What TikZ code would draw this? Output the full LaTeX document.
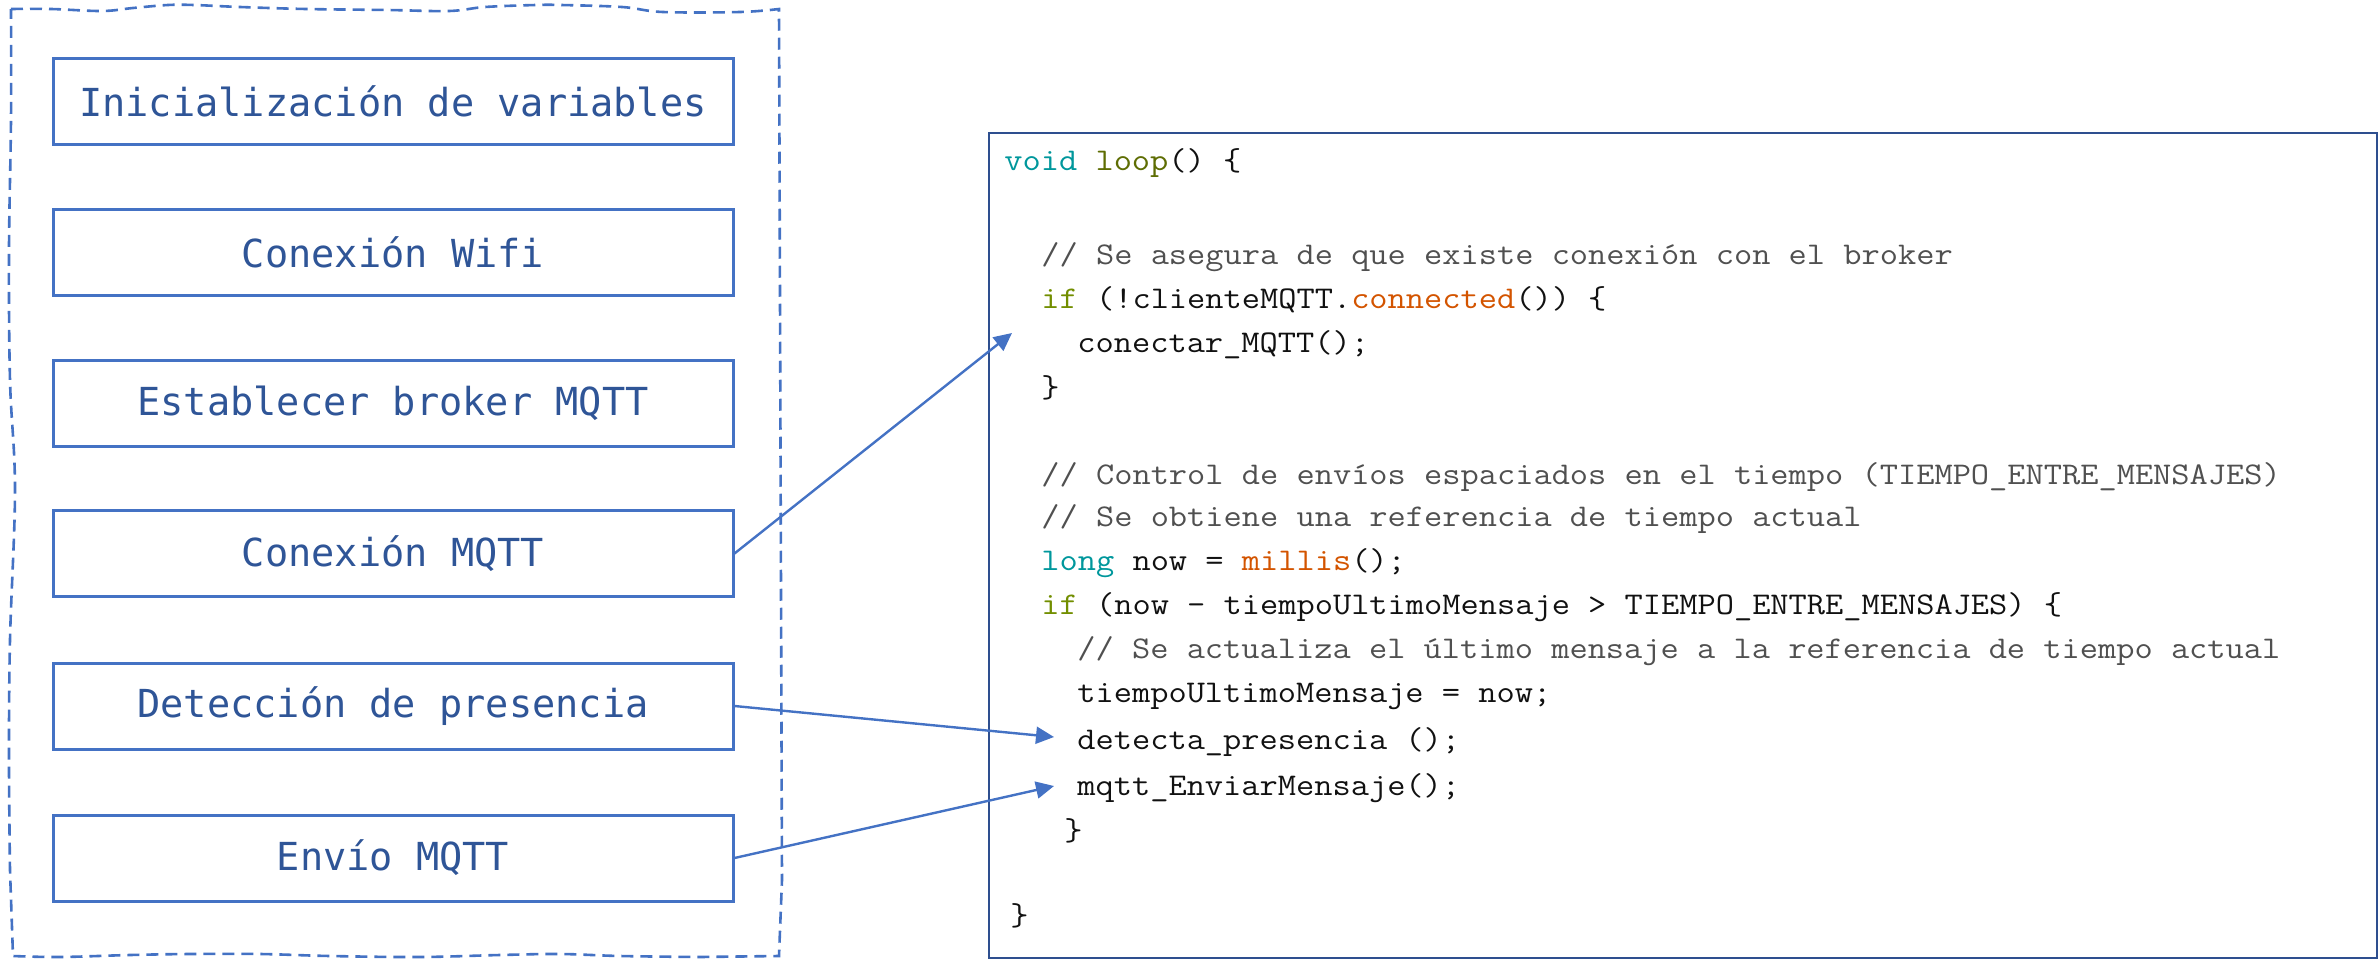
\documentclass[tikz,border=0pt]{standalone}
\usepackage{fontspec}
\newfontfamily\boxfont{DejaVu Sans Mono}
\newfontfamily\codefont[FakeStretch=1.12]{Latin Modern Mono}
\usetikzlibrary{arrows.meta}
\definecolor{boxblue}{HTML}{4472C4}
\definecolor{textblue}{HTML}{2F5597}
\definecolor{codeborder}{HTML}{2E4F8F}
\definecolor{codeblack}{HTML}{111111}
\definecolor{commentgray}{HTML}{505050}
\definecolor{kwteal}{HTML}{00979C}
\definecolor{loopcol}{HTML}{5E6D03}
\definecolor{ifcol}{HTML}{728E00}
\definecolor{fncol}{HTML}{D35400}
\newcommand{\cmt}[1]{\textcolor{commentgray}{#1}}
\begin{document}
\begin{tikzpicture}[x=0.5pt,y=-0.5pt,
  stepbox/.style={draw=boxblue, line width=1.5pt, minimum width=340pt,
    minimum height=43pt, inner sep=0pt,
    font=\boxfont\fontsize{19.3}{22}\selectfont, text=textblue},
  codeline/.style={anchor=base west, inner sep=0pt,
    font=\codefont\fontsize{15.8}{18}\selectfont, text=codeblack},
  link/.style={draw=boxblue, line width=1.2pt, -{Triangle[length=9pt,width=8.5pt]}},
  frame/.style={draw=boxblue, line width=1.3pt, dash pattern=on 6pt off 3.5pt}]

\useasboundingbox (0,0) rectangle (2379,959);

% dashed container: wavy top and bottom, slightly uneven sides
\draw[frame] plot[smooth, tension=0.6] coordinates {(11,9) (51,9) (102,11) (133,8) (168,5) (194,5) (240,7) (306,9) (388,10) (449,11) (485,7) (536,5) (561,5) (622,7) (663,12) (740,12) (779,9)}
  -- (782,880) -- (779,956)
  -- plot[smooth, tension=0.6] coordinates {(700,957) (620,956) (560,954) (500,955) (420,957) (330,956) (260,954) (190,954) (130,955) (60,957) (13,956)}
  -- plot[smooth, tension=0.6] coordinates {(10,870) (9,760) (10,640) (15,490) (10,380) (9,250) (11,120) (11,9)};

% program steps
\node[stepbox] (b1) at (393,101) {Inicialización de variables};
\node[stepbox] (b2) at (393,252.5) {Conexión Wifi};
\node[stepbox] (b3) at (393,403.5) {Establecer broker MQTT};
\node[stepbox] (b4) at (393,553.5) {Conexión MQTT};
\node[stepbox] (b5) at (393,706) {Detección de presencia};
\node[stepbox] (b6) at (393,858) {Envío MQTT};

% code listing
\node[draw=codeborder, line width=1pt, anchor=north west, minimum width=694pt,
  minimum height=412.5pt, inner sep=0pt] (codebox) at (988,132) {};
\node[codeline] (l1) at (1004,170) {\textcolor{kwteal}{void} \textcolor{loopcol}{loop}() \{};
\node[codeline] (l2) at (1041,264) {\cmt{// Se asegura de que existe conexión con el broker}};
\node[codeline] (l3) at (1041,308) {\textcolor{ifcol}{if} (!clienteMQTT.\textcolor{fncol}{connected}()) \{};
\node[codeline] (l4) at (1077,352) {conectar\_MQTT();};
\node[codeline] (l5) at (1041,397) {\}};
\node[codeline] (l6) at (1041,484) {\cmt{// Control de envíos espaciados en el tiempo (TIEMPO\_ENTRE\_MENSAJES)}};
\node[codeline] (l7) at (1041,526) {\cmt{// Se obtiene una referencia de tiempo actual}};
\node[codeline] (l8) at (1041,570) {\textcolor{kwteal}{long} now = \textcolor{fncol}{millis}();};
\node[codeline] (l9) at (1041,614) {\textcolor{ifcol}{if} (now - tiempoUltimoMensaje > TIEMPO\_ENTRE\_MENSAJES) \{};
\node[codeline] (l10) at (1077,658) {\cmt{// Se actualiza el último mensaje a la referencia de tiempo actual}};
\node[codeline] (l11) at (1077,702) {tiempoUltimoMensaje = now;};
\node[codeline] (l12) at (1077,749) {detecta\_presencia ();};
\node[codeline] (l13) at (1077,795) {mqtt\_EnviarMensaje();};
\node[codeline] (l14) at (1064,840) {\}};
\node[codeline] (l15) at (1010,925) {\}};

% connectors from steps to code
\coordinate (tipA) at (1012,333);
\coordinate (tipB) at (1054,737);
\coordinate (tipC) at (1054,786);
\draw[link] (b4.east) -- (tipA);
\draw[link] (b5.east) -- (tipB);
\draw[link] (b6.east) -- (tipC);
\end{tikzpicture}
\end{document}
